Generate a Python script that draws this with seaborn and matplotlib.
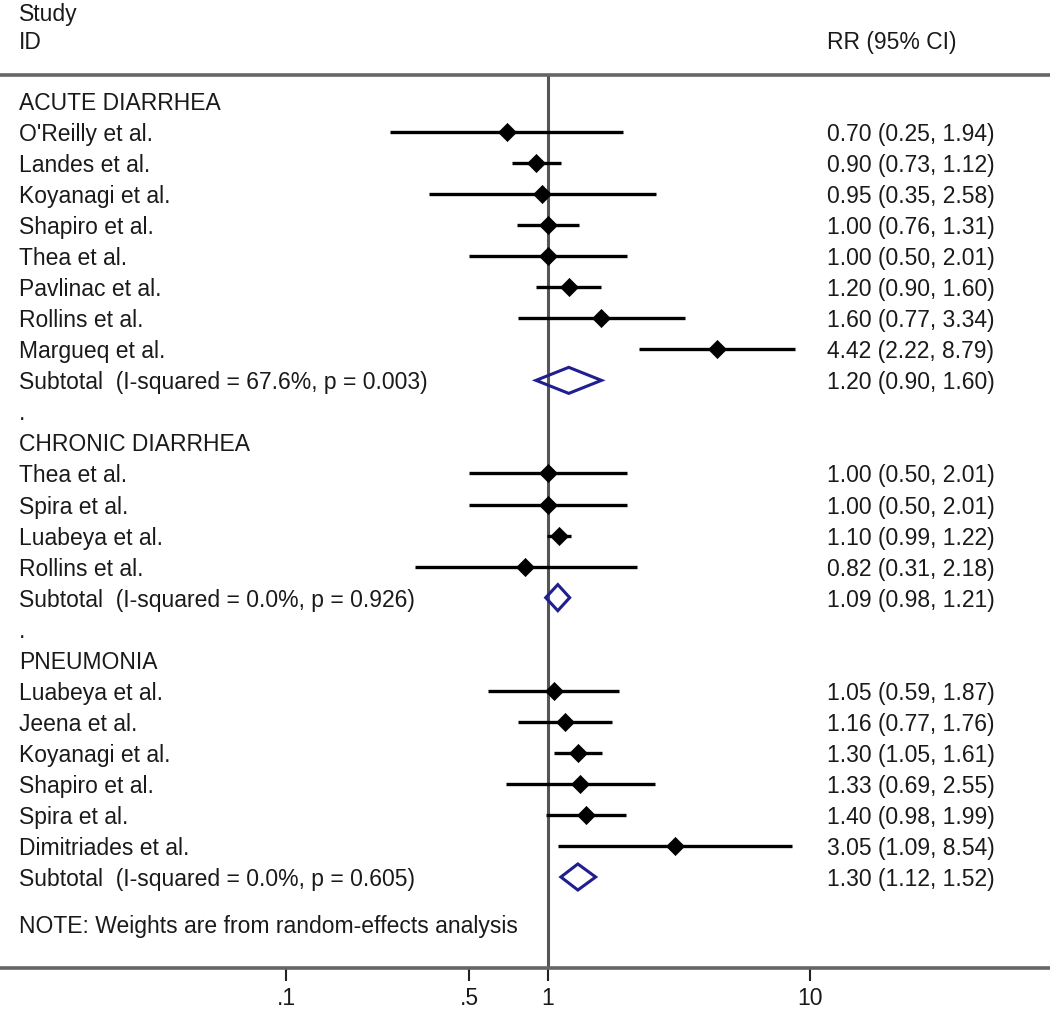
import numpy as np
import pandas as pd
import matplotlib
matplotlib.use("Agg")
import matplotlib.pyplot as plt
import seaborn as sns
from matplotlib.patches import Polygon

# ---- data ----
groups = ["ACUTE DIARRHEA", "CHRONIC DIARRHEA", "PNEUMONIA"]
acute_studies = ["O'Reilly et al.", "Landes et al.", "Koyanagi et al.", "Shapiro et al.",
                 "Thea et al.", "Pavlinac et al.", "Rollins et al.", "Margueq et al."]
acute_rr = [0.70, 0.90, 0.95, 1.00, 1.00, 1.20, 1.60, 4.42]
acute_lo = [0.25, 0.73, 0.35, 0.76, 0.50, 0.90, 0.77, 2.22]
acute_hi = [1.94, 1.12, 2.58, 1.31, 2.01, 1.60, 3.34, 8.79]
acute_sub = [1.20, 0.90, 1.60]
acute_het = "Subtotal  (I-squared = 67.6%, p = 0.003)"

chronic_studies = ["Thea et al.", "Spira et al.", "Luabeya et al.", "Rollins et al."]
chronic_rr = [1.00, 1.00, 1.10, 0.82]
chronic_lo = [0.50, 0.50, 0.99, 0.31]
chronic_hi = [2.01, 2.01, 1.22, 2.18]
chronic_sub = [1.09, 0.98, 1.21]
chronic_het = "Subtotal  (I-squared = 0.0%, p = 0.926)"

pneu_studies = ["Luabeya et al.", "Jeena et al.", "Koyanagi et al.", "Shapiro et al.",
                "Spira et al.", "Dimitriades et al."]
pneu_rr = [1.05, 1.16, 1.30, 1.33, 1.40, 3.05]
pneu_lo = [0.59, 0.77, 1.05, 0.69, 0.98, 1.09]
pneu_hi = [1.87, 1.76, 1.61, 2.55, 1.99, 8.54]
pneu_sub = [1.30, 1.12, 1.52]
pneu_het = "Subtotal  (I-squared = 0.0%, p = 0.605)"

tick_values = [0.1, 0.5, 1, 10]
tick_labels = [".1", ".5", "1", "10"]
note = "NOTE: Weights are from random-effects analysis"

# ---- build rows ----
rows = []  # (label, kind, est, lo, hi)
blocks = [
    (groups[0], acute_studies, acute_rr, acute_lo, acute_hi, acute_sub, acute_het),
    (groups[1], chronic_studies, chronic_rr, chronic_lo, chronic_hi, chronic_sub, chronic_het),
    (groups[2], pneu_studies, pneu_rr, pneu_lo, pneu_hi, pneu_sub, pneu_het),
]
for bi, (g, st, rr, lo, hi, sub, het) in enumerate(blocks):
    rows.append((g, "header", None, None, None))
    for s, e, l, h in zip(st, rr, lo, hi):
        rows.append((s, "study", e, l, h))
    rows.append((het, "subtotal", sub[0], sub[1], sub[2]))
    if bi < len(blocks) - 1:
        rows.append((".", "spacer", None, None, None))
df = pd.DataFrame(rows, columns=["label", "kind", "est", "lo", "hi"])
df["y"] = np.arange(len(df), dtype=float)

# ---- figure ----
sns.set_theme(style="white")
plt.rcParams["font.family"] = ["Liberation Sans", "DejaVu Sans"]
W, H = 1050, 1019
fig = plt.figure(figsize=(W / 100, H / 100), dpi=100)
ax_bottom_px, ax_top_px = 968, 75
ax = fig.add_axes([0, 1 - ax_bottom_px / H, 1, (ax_bottom_px - ax_top_px) / H])

px_one, px_decade = 548, 262
ax.set_xscale("log")
ax.set_xlim(10 ** (-px_one / px_decade), 10 ** ((W - px_one) / px_decade))
row0_px, row_step = 101, 31.04
ax.set_ylim((ax_bottom_px - row0_px) / row_step, (ax_top_px - row0_px) / row_step)

fs = 16.5
txt_col = "#1a1a1a"
line_col = "#555555"
toff = 2.5 / row_step  # small downward shift of text relative to marks

# reference line at 1
ax.axvline(1, color=line_col, lw=2.2, zorder=1)

st = df[df.kind == "study"]
ax.hlines(st["y"], st["lo"], st["hi"], color="black", lw=2.4, zorder=2)
sns.scatterplot(data=st, x="est", y="y", marker="D", s=85, color="black",
                edgecolor="black", linewidth=0.5, ax=ax, zorder=3, legend=False)

sub = df[df.kind == "subtotal"]
for _, r in sub.iterrows():
    hh = 0.42
    poly = Polygon([[r.lo, r.y], [r.est, r.y - hh], [r.hi, r.y], [r.est, r.y + hh]],
                   closed=True, facecolor="none", edgecolor="#1f1f8f", lw=2.2, zorder=3)
    ax.add_patch(poly)

left_x = 19 / W
right_x = 827 / W
tr = ax.get_yaxis_transform()  # x in axes coords, y in data
for _, r in df.iterrows():
    ax.text(left_x, r.y + toff, r.label, transform=tr, fontsize=fs, color=txt_col,
            ha="left", va="center")
    if r.kind in ("study", "subtotal"):
        ax.text(right_x, r.y + toff, f"{r.est:.2f} ({r.lo:.2f}, {r.hi:.2f})", transform=tr,
                fontsize=fs, color=txt_col, ha="left", va="center")

note_y = (924 - row0_px) / row_step
ax.text(left_x, note_y + toff, note, transform=tr, fontsize=fs, color=txt_col,
        ha="left", va="center")

# column headers above axes
for lab, ypx, xx in [("Study", 12, left_x), ("ID", 40, left_x), ("RR (95% CI)", 40, right_x)]:
    ax.text(xx, (ypx - row0_px) / row_step + toff, lab, transform=tr, fontsize=fs,
            color=txt_col, ha="left", va="center", clip_on=False)

# spines and ticks
for s in ["left", "right"]:
    ax.spines[s].set_visible(False)
for s in ["top", "bottom"]:
    ax.spines[s].set_visible(True)
    ax.spines[s].set_color("#666666")
    ax.spines[s].set_linewidth(2.6)
ax.set_yticks([])
ax.set_xticks(tick_values)
ax.set_xticklabels(tick_labels)
ax.xaxis.set_minor_locator(matplotlib.ticker.NullLocator())
ax.tick_params(axis="x", which="major", bottom=True, length=9, width=1.5, color="#222222",
               direction="out", pad=5, labelsize=fs, labelcolor=txt_col)
ax.set_xlabel("")
ax.set_ylabel("")
ax.grid(False)

fig.savefig("out.png", dpi=100)
